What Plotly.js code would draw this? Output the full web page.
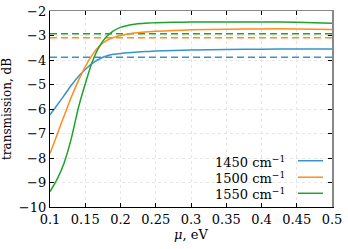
<!DOCTYPE html>
<html><head><meta charset="utf-8">
<script src="https://cdn.plot.ly/plotly-3.0.1.min.js"></script>
<style>html,body{margin:0;padding:0;background:#fff}#chart{width:348px;height:249px}</style>
</head><body><div id="chart"></div>
<script>
var mu = [0.10,0.11,0.12,0.13,0.14,0.15,0.16,0.17,0.18,0.19,0.20,0.21,0.22,0.23,0.24,0.25,0.275,0.30,0.35,0.40,0.45,0.50];
var t1450 = [-6.24,-5.85,-5.45,-5.04,-4.68,-4.39,-4.14,-3.96,-3.84,-3.77,-3.73,-3.70,-3.68,-3.66,-3.65,-3.63,-3.61,-3.59,-3.57,-3.56,-3.55,-3.55];
var t1500 = [-7.82,-7.05,-6.28,-5.53,-4.86,-4.27,-3.79,-3.43,-3.21,-3.08,-3.00,-2.94,-2.90,-2.87,-2.85,-2.83,-2.80,-2.77,-2.74,-2.73,-2.73,-2.75];
var t1550 = [-9.37,-8.87,-8.20,-7.23,-5.98,-4.97,-4.07,-3.45,-3.05,-2.81,-2.67,-2.59,-2.54,-2.51,-2.49,-2.48,-2.46,-2.45,-2.45,-2.45,-2.46,-2.50];
var refX = [0.1, 0.5];
var ref1450 = -3.89, ref1500 = -3.09, ref1550 = -2.93;
var names = ['1450 cm<sup>\u22121</sup>','1500 cm<sup>\u22121</sup>','1550 cm<sup>\u22121</sup>'];
var colors = ['#3a93c8','#ff8c1c','#1fa32c'];
var xticks = [0.1,0.15,0.2,0.25,0.3,0.35,0.4,0.45,0.5];
var yticks = [-10,-9,-8,-7,-6,-5,-4,-3,-2];

var font = '"DejaVu Serif", "Liberation Serif", serif';
var series = [t1450, t1500, t1550];
var refs = [ref1450, ref1500, ref1550];
var traces = [];
for (var i=0;i<3;i++){
  traces.push({x: refX, y: [refs[i], refs[i]], mode:'lines', line:{color:colors[i], width:1.5, dash:'7px,4px'}, showlegend:false, hoverinfo:'skip'});
}
for (var i=0;i<3;i++){
  traces.push({x: mu, y: series[i], mode:'lines', name:names[i], line:{color:colors[i], width:1.5, shape:'spline', smoothing:0.5}, showlegend:false});
}
var shapes = [], annotations = [];
var legY = [0.236, 0.152, 0.070];
for (var i=0;i<3;i++){
  shapes.push({type:'line', xref:'paper', yref:'paper', x0:0.879, x1:0.968, y0:legY[i], y1:legY[i], line:{color:colors[i], width:1.5}});
  annotations.push({xref:'paper', yref:'paper', x:0.842, y:legY[i]-0.005, xanchor:'right', yanchor:'middle', showarrow:false, text:names[i], font:{family:font, size:13, color:'#000'}});
}
var axBase = {ticks:'inside', ticklen:4, tickcolor:'#000', tickwidth:1, zeroline:false,
  showgrid:true, gridcolor:'#e6e6e6', griddash:'dot', gridwidth:1,
  tickfont:{family:font, size:13, color:'#000'}, showline:true, linecolor:'#000', linewidth:1.2};
var layout = {
  width:348, height:249,
  margin:{l:50, r:16, t:11, b:42},
  paper_bgcolor:'#fff', plot_bgcolor:'#fff',
  font:{family:font, size:13, color:'#000'},
  xaxis: Object.assign({}, axBase, {range:[0.1,0.5], tickvals:xticks, ticktext:xticks.map(String),
    title:{text:'<i>\u03bc</i>, eV', font:{family:font, size:13}, standoff:0}}),
  yaxis: Object.assign({}, axBase, {range:[-10,-2], tickvals:yticks,
    title:{text:'transmission, dB', font:{family:font, size:12}, standoff:5}}),
  xaxis2: {overlaying:'x', matches:'x', side:'top', range:[0.1,0.5], tickvals:xticks, ticks:'inside', ticklen:4, tickcolor:'#000', showticklabels:false, showgrid:false, zeroline:false, showline:true, linecolor:'#888', linewidth:1.5},
  yaxis2: {overlaying:'y', matches:'y', side:'right', range:[-10,-2], tickvals:yticks, ticks:'inside', ticklen:4, tickcolor:'#000', showticklabels:false, showgrid:false, zeroline:false, showline:true, linecolor:'#888', linewidth:1.5},
  showlegend:false,
  shapes:shapes, annotations:annotations
};
traces.push({x:refX, y:[ref1450, ref1450], xaxis:'x2', yaxis:'y2', mode:'lines', line:{width:0}, hoverinfo:'skip', showlegend:false});
Plotly.newPlot('chart', traces, layout, {staticPlot:true, displayModeBar:false});
</script></body></html>
